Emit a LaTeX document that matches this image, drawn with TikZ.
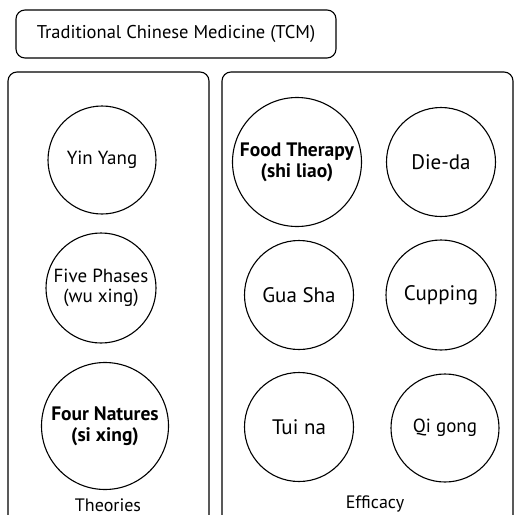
\documentclass[tikz,border=0pt]{standalone}
\usepackage{fontspec}
\setmainfont{PT Sans}
\begin{document}
\begin{tikzpicture}[x=1pt,y=-1pt,
  panel/.style={draw,line width=1.1pt,rounded corners=9pt},
  topic/.style={draw,circle,line width=1.1pt,inner sep=0pt,minimum size=#1,align=center,
    font=\fontsize{19}{20}\selectfont},
  topic/.default=109pt,
  big/.style={font=\fontsize{21}{22}\selectfont},
  key/.style={font=\fontsize{19.5}{21}\selectfont\bfseries},
  caption/.style={font=\fontsize{18.5}{20}\selectfont}
]
\useasboundingbox (0,0) rectangle (515,515);
\clip (0,0) rectangle (515,515);
\node[panel,minimum width=320pt,minimum height=48pt,caption] (tcm) at (176,34) {Traditional Chinese Medicine (TCM)};
% the two groups
\draw[panel] (8,72) rectangle (209,540);
\draw[panel] (222,72) rectangle (513,540);
% theories
\node[topic=108pt] (yinyang) at (102,160) {Yin Yang};
\node[topic=110pt] (phases) at (101,288) {Five Phases\\(wu xing)};
\node[topic=127pt,key] (natures) at (105,426) {Four Natures\\(si xing)};
\node[caption,font=\fontsize{18}{20}\selectfont] (theories) at (108,505) {Theories};
% efficacy
\node[topic=129pt,key] (food) at (297,162) {Food Therapy\\(shi liao)};
\node[topic=109pt,big] (dieda) at (441,162) {Die-da};
\node[topic=109pt,big] (guasha) at (299,295) {Gua Sha};
\node[topic=110pt,big] (cupping) at (441,295) {Cupping};
\node[topic=109pt,big] (tuina) at (299,427) {Tui na};
\node[topic=108pt] (qigong) at (445,428) {Qi gong};
\node[caption,font=\fontsize{18}{20}\selectfont] (efficacy) at (375,504) {Efficacy};
\end{tikzpicture}
\end{document}
